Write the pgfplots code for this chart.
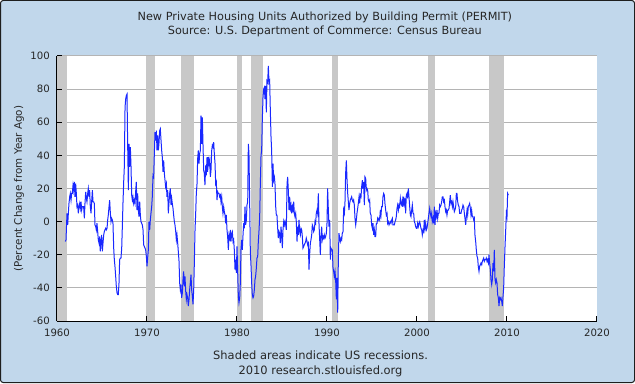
\documentclass[border=0pt]{standalone}
\usepackage{pgfplots}
\pgfplotsset{compat=1.18}
\usepackage{fontspec}
\setmainfont{DejaVu Sans}
\definecolor{bgblue}{RGB}{193,215,235}
\definecolor{gridgray}{RGB}{180,180,180}
\definecolor{recgray}{RGB}{200,200,200}
\definecolor{lineblue}{RGB}{25,40,255}
\definecolor{frame}{RGB}{30,30,30}
\pgfplotsset{fredbox/.style={
  at={(42.75pt,46.5pt)}, anchor=south west,
  scale only axis, width=405pt, height=198.75pt,
  xmin=1960, xmax=2020, ymin=-60, ymax=100,
  ytick={-60,-40,...,100},
}}
\begin{document}
\begin{tikzpicture}
\useasboundingbox (0,0) rectangle (476.25pt,287.25pt);
\fill[bgblue, draw=frame, line width=0.75pt, rounded corners=2pt] (0.375pt,0.375pt) rectangle (475.875pt,286.875pt);
% background axis: white plot area, grid, recession shading
\begin{axis}[fredbox,
  xtick=\empty, yticklabels={}, major tick length=0pt,
  axis line style={draw=none},
  ymajorgrids, grid style={gridgray, line width=0.75pt},
  axis background/.style={fill=white},
]
\addplot[fill=recgray, draw=none] coordinates {(1960,-60) (1960,100) (1961.1,100) (1961.1,-60)};
\addplot[fill=recgray, draw=none] coordinates {(1969.9,-60) (1969.9,100) (1970.85,100) (1970.85,-60)};
\addplot[fill=recgray, draw=none] coordinates {(1973.82,-60) (1973.82,100) (1975.2,100) (1975.2,-60)};
\addplot[fill=recgray, draw=none] coordinates {(1980.0,-60) (1980.0,100) (1980.52,100) (1980.52,-60)};
\addplot[fill=recgray, draw=none] coordinates {(1981.52,-60) (1981.52,100) (1982.92,100) (1982.92,-60)};
\addplot[fill=recgray, draw=none] coordinates {(1990.52,-60) (1990.52,100) (1991.25,100) (1991.25,-60)};
\addplot[fill=recgray, draw=none] coordinates {(2001.22,-60) (2001.22,100) (2002.02,100) (2002.02,-60)};
\addplot[fill=recgray, draw=none] coordinates {(2008.05,-60) (2008.05,100) (2009.65,100) (2009.65,-60)};
\end{axis}
% foreground axis: axes, ticks, labels, data
\begin{axis}[fredbox,
  xtick={1960,1970,...,2020},
  axis x line=bottom, axis y line=left,
  axis line style={-, black, line width=0.75pt},
  tick align=inside,
  major tick length=3.75pt,
  tick style={black, line width=0.75pt},
  /pgf/number format/.cd, 1000 sep={}, assume math mode=true, /pgfplots/.cd,
  ticklabel style={font=\fontsize{7.6pt}{9pt}\selectfont, text=black!85},
  xticklabel style={anchor=north, inner sep=0pt, yshift=-6pt},
  yticklabel style={anchor=east, inner sep=0pt, xshift=-5.25pt},
  title={New Private Housing Units Authorized by Building Permit (PERMIT)\\Source: U.S. Department of Commerce: Census Bureau},
  title style={at={(axis description cs:0.496,1.090)}, anchor=center, align=center,
    font=\fontsize{8.45pt}{10.5pt}\selectfont, text=black!85},
  xlabel={Shaded areas indicate US recessions.\\2010 research.stlouisfed.org},
  xlabel style={at={(axis description cs:0.488,-0.163)}, anchor=center, align=center,
    font=\fontsize{8.6pt}{11.25pt}\selectfont, text=black!85},
  ylabel={(Percent Change from Year Ago)},
  ylabel style={at={(axis description cs:-0.0704,0.5)}, anchor=center,
    font=\fontsize{7.75pt}{9pt}\selectfont, text=black!85},
]
% PERMIT, percent change from year ago
\addplot[lineblue, line width=0.75pt, no marks, sharp plot] table {
x y
1960.93 -12
1961.00 -11
1961.11 5
1961.19 -2
1961.26 5
1961.33 11
1961.41 15
1961.48 17
1961.56 13
1961.63 17
1961.70 17
1961.78 22
1961.85 19
1961.93 24
1962.00 15
1962.07 23
1962.15 17
1962.22 9
1962.30 10
1962.37 5
1962.44 9
1962.52 11
1962.59 8
1962.67 12
1962.74 7
1962.81 9
1962.89 9
1962.96 9
1963.04 2
1963.11 11
1963.19 18
1963.26 14
1963.33 12
1963.41 17
1963.48 20
1963.56 15
1963.63 19
1963.70 9
1963.78 5
1963.85 12
1963.93 19
1964.00 12
1964.07 12
1964.15 11
1964.22 -2
1964.30 -3
1964.37 -5
1964.44 -1
1964.52 -6
1964.59 -11
1964.67 -13
1964.74 -9
1964.81 -18
1964.89 -12
1964.96 -8
1965.04 -18
1965.11 -13
1965.19 -8
1965.26 -6
1965.33 -5
1965.41 -4
1965.48 -5
1965.56 -4
1965.63 1
1965.70 4
1965.78 9
1965.85 13
1965.93 5
1966.00 0
1966.07 2
1966.15 1
1966.22 -1
1966.30 -16
1966.37 -23
1966.44 -27
1966.52 -33
1966.59 -39
1966.67 -43
1966.74 -44
1966.81 -44
1966.89 -37
1966.96 -23
1967.04 -22
1967.11 -22
1967.19 -16
1967.26 -3
1967.33 11
1967.41 24
1967.48 33
1967.56 69
1967.63 74
1967.70 76
1967.78 77
1967.85 47
1967.93 19
1968.00 47
1968.07 33
1968.15 45
1968.22 34
1968.30 16
1968.37 13
1968.44 15
1968.52 11
1968.59 13
1968.67 11
1968.74 18
1968.81 24
1968.89 7
1968.96 17
1969.04 7
1969.11 3
1969.19 12
1969.26 4
1969.33 0
1969.41 -1
1969.48 -2
1969.56 -5
1969.63 -14
1969.70 -15
1969.78 -16
1969.85 -17
1969.93 -21
1970.00 -27
1970.07 -22
1970.15 -17
1970.22 0
1970.30 -5
1970.37 1
1970.44 5
1970.52 9
1970.59 15
1970.67 28
1970.74 27
1970.81 40
1970.89 54
1970.96 49
1971.04 55
1971.11 43
1971.19 52
1971.26 43
1971.33 47
1971.41 55
1971.48 56
1971.56 49
1971.63 43
1971.70 39
1971.78 30
1971.85 37
1971.93 29
1972.00 25
1972.07 21
1972.15 23
1972.22 15
1972.30 19
1972.37 5
1972.44 11
1972.52 17
1972.59 20
1972.67 10
1972.74 14
1972.81 11
1972.89 8
1972.96 4
1973.04 0
1973.11 -2
1973.19 -6
1973.26 -11
1973.33 -8
1973.41 -13
1973.48 -18
1973.56 -24
1973.63 -37
1973.70 -41
1973.78 -38
1973.85 -46
1973.93 -43
1974.00 -35
1974.07 -30
1974.15 -39
1974.22 -33
1974.30 -42
1974.37 -47
1974.44 -44
1974.52 -46
1974.59 -51
1974.67 -47
1974.74 -41
1974.81 -37
1974.89 -32
1974.96 -41
1975.04 -45
1975.11 -50
1975.19 -41
1975.26 -25
1975.33 -6
1975.41 5
1975.48 17
1975.56 23
1975.63 38
1975.70 43
1975.78 35
1975.85 41
1975.93 43
1976.00 64
1976.07 47
1976.15 63
1976.22 47
1976.30 31
1976.37 29
1976.44 22
1976.52 34
1976.59 28
1976.67 39
1976.74 30
1976.81 39
1976.89 35
1976.96 37
1977.04 27
1977.11 31
1977.19 43
1977.26 46
1977.33 45
1977.41 48
1977.48 41
1977.56 35
1977.63 23
1977.70 24
1977.78 13
1977.85 18
1977.93 17
1978.00 17
1978.07 15
1978.15 16
1978.22 12
1978.30 15
1978.37 9
1978.44 5
1978.52 9
1978.59 6
1978.67 4
1978.74 -1
1978.81 4
1978.89 -5
1978.96 -9
1979.04 -17
1979.11 -8
1979.19 -10
1979.26 -5
1979.33 -12
1979.41 -7
1979.48 -6
1979.56 -12
1979.63 -11
1979.70 -17
1979.78 -29
1979.85 -23
1979.93 -31
1980.00 -15
1980.07 -29
1980.15 -45
1980.22 -49
1980.30 -46
1980.37 -37
1980.44 -17
1980.52 -11
1980.59 -17
1980.67 -8
1980.74 -1
1980.81 -4
1980.89 9
1980.96 -2
1981.04 1
1981.11 10
1981.19 12
1981.26 47
1981.33 41
1981.41 11
1981.48 -18
1981.56 -27
1981.63 -37
1981.70 -44
1981.78 -46
1981.85 -45
1981.93 -41
1982.00 -35
1982.07 -33
1982.15 -28
1982.22 -22
1982.30 -21
1982.37 -12
1982.44 -6
1982.52 3
1982.59 22
1982.67 40
1982.74 43
1982.81 61
1982.89 75
1982.96 80
1983.04 81
1983.11 74
1983.19 82
1983.26 66
1983.33 85
1983.41 84
1983.48 94
1983.56 84
1983.63 85
1983.70 68
1983.78 51
1983.85 43
1983.93 21
1984.00 35
1984.07 25
1984.15 27
1984.22 23
1984.30 9
1984.37 4
1984.44 4
1984.52 -4
1984.59 -10
1984.67 -6
1984.74 -7
1984.81 -13
1984.89 -3
1984.96 -8
1985.04 -16
1985.11 -5
1985.19 0
1985.26 -2
1985.33 0
1985.41 -2
1985.48 -5
1985.56 23
1985.63 27
1985.70 19
1985.78 7
1985.85 15
1985.93 8
1986.00 10
1986.07 5
1986.15 9
1986.22 7
1986.30 12
1986.37 5
1986.44 3
1986.52 5
1986.59 0
1986.67 -12
1986.74 -3
1986.81 -8
1986.89 1
1986.96 -6
1987.04 -8
1987.11 -4
1987.19 -5
1987.26 -9
1987.33 -16
1987.41 -15
1987.48 -14
1987.56 -13
1987.63 -12
1987.70 -10
1987.78 -12
1987.85 -14
1987.93 -13
1988.00 -29
1988.07 -20
1988.15 -13
1988.22 -11
1988.30 -8
1988.37 -2
1988.44 -3
1988.52 -6
1988.59 -5
1988.67 0
1988.74 -1
1988.81 5
1988.89 7
1988.96 5
1989.04 17
1989.11 -1
1989.19 -11
1989.26 -20
1989.33 -9
1989.41 -3
1989.48 -11
1989.56 -9
1989.63 -10
1989.70 -8
1989.78 -10
1989.85 -9
1989.93 -7
1990.00 -1
1990.07 20
1990.15 7
1990.22 -3
1990.30 1
1990.37 -23
1990.44 -16
1990.52 -17
1990.59 -17
1990.67 -28
1990.74 -30
1990.81 -33
1990.89 -30
1990.96 -35
1991.04 -47
1991.11 -34
1991.19 -55
1991.26 -23
1991.33 -7
1991.41 -10
1991.48 -12
1991.56 -10
1991.63 -11
1991.70 -7
1991.78 -6
1991.85 7
1991.93 5
1992.00 12
1992.07 29
1992.15 37
1992.22 26
1992.30 17
1992.37 12
1992.44 7
1992.52 11
1992.59 13
1992.67 14
1992.74 15
1992.81 13
1992.89 12
1992.96 13
1993.04 10
1993.11 2
1993.19 -2
1993.26 1
1993.33 5
1993.41 8
1993.48 11
1993.56 15
1993.63 11
1993.70 16
1993.78 15
1993.85 21
1993.93 25
1994.00 20
1994.07 24
1994.15 10
1994.22 27
1994.30 26
1994.37 19
1994.44 20
1994.52 19
1994.59 13
1994.67 12
1994.74 13
1994.81 5
1994.89 4
1994.96 -2
1995.04 -4
1995.11 -1
1995.19 -8
1995.26 -5
1995.33 -9
1995.41 -9
1995.48 -1
1995.56 -1
1995.63 2
1995.70 1
1995.78 2
1995.85 1
1995.93 7
1996.00 4
1996.07 9
1996.15 9
1996.22 15
1996.30 17
1996.37 16
1996.44 11
1996.52 7
1996.59 4
1996.67 5
1996.74 -1
1996.81 0
1996.89 -2
1996.96 -1
1997.04 0
1997.11 -1
1997.19 1
1997.26 2
1997.33 -2
1997.41 -2
1997.48 -2
1997.56 0
1997.63 1
1997.70 3
1997.78 8
1997.85 10
1997.93 7
1998.00 10
1998.07 9
1998.15 14
1998.22 11
1998.30 10
1998.37 13
1998.44 9
1998.52 15
1998.59 11
1998.67 14
1998.74 5
1998.81 16
1998.89 17
1998.96 14
1999.04 20
1999.11 15
1999.19 9
1999.26 4
1999.33 3
1999.41 7
1999.48 10
1999.56 5
1999.63 5
1999.70 0
1999.78 -1
1999.85 -3
1999.93 -4
2000.00 -4
2000.07 -1
2000.15 -3
2000.22 -1
2000.30 0
2000.37 -2
2000.44 -4
2000.52 -5
2000.59 -8
2000.67 -5
2000.74 -6
2000.81 1
2000.89 -4
2000.96 -1
2001.04 -5
2001.11 -4
2001.19 -1
2001.26 2
2001.33 5
2001.41 8
2001.48 5
2001.56 3
2001.63 5
2001.70 0
2001.78 2
2001.85 -1
2001.93 9
2002.00 -2
2002.07 5
2002.15 3
2002.22 7
2002.30 2
2002.37 5
2002.44 5
2002.52 10
2002.59 9
2002.67 10
2002.74 12
2002.81 15
2002.89 15
2002.96 12
2003.04 13
2003.11 9
2003.19 6
2003.26 7
2003.33 4
2003.41 7
2003.48 7
2003.56 8
2003.63 12
2003.70 16
2003.78 11
2003.85 12
2003.93 9
2004.00 12
2004.07 9
2004.15 6
2004.22 7
2004.30 9
2004.37 17
2004.44 17
2004.52 12
2004.59 10
2004.67 9
2004.74 5
2004.81 5
2004.89 5
2004.96 7
2005.04 8
2005.11 10
2005.19 9
2005.26 5
2005.33 2
2005.41 -2
2005.48 3
2005.56 7
2005.63 4
2005.70 9
2005.78 10
2005.85 11
2005.93 8
2006.00 4
2006.07 7
2006.15 3
2006.22 3
2006.30 1
2006.37 2
2006.44 -8
2006.52 -12
2006.59 -17
2006.67 -21
2006.74 -22
2006.81 -27
2006.89 -30
2006.96 -27
2007.04 -26
2007.11 -25
2007.19 -26
2007.26 -24
2007.33 -23
2007.41 -22
2007.48 -24
2007.56 -23
2007.63 -23
2007.70 -22
2007.78 -24
2007.85 -23
2007.93 -25
2008.00 -20
2008.07 -25
2008.15 -29
2008.22 -35
2008.30 -38
2008.37 -35
2008.44 -25
2008.52 -30
2008.59 -17
2008.67 -35
2008.74 -37
2008.81 -35
2008.89 -37
2008.96 -44
2009.04 -46
2009.11 -51
2009.19 -46
2009.26 -47
2009.33 -46
2009.41 -48
2009.48 -51
2009.56 -45
2009.63 -40
2009.70 -27
2009.78 -15
2009.85 -6
2009.93 5
2010.00 3
2010.07 17
2010.15 16
};
\end{axis}
\end{tikzpicture}
\end{document}
